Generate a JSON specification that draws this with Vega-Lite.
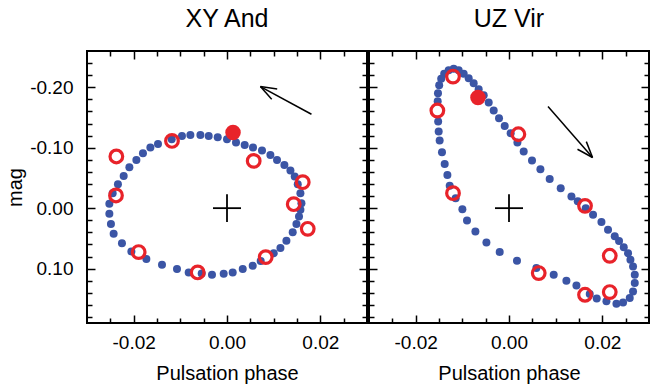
{
  "$schema": "https://vega.github.io/schema/vega-lite/v6.json",
  "padding": {"left": 4, "top": 6, "right": 5, "bottom": 5},
  "spacing": -2,
  "config": {
    "view": {"stroke": "black", "strokeWidth": 2},
    "font": "Liberation Sans",
    "axis": {"labelFont": "Liberation Sans", "titleFont": "Liberation Sans", "labelColor": "black", "titleColor": "black", "tickColor": "black", "grid": false, "domain": false, "labelFlush": false},
    "title": {"font": "Liberation Sans", "fontSize": 25, "fontWeight": "normal", "color": "black", "offset": 18}
  },
  "datasets": {
    "xyBlue": [
      {"x": -0.02092, "y": -0.0678}, {"x": -0.01942, "y": -0.0798}, {"x": -0.01801, "y": -0.0909}, {"x": -0.01642, "y": -0.1003},
      {"x": -0.01479, "y": -0.1063}, {"x": -0.01185, "y": -0.1140}, {"x": -0.00965, "y": -0.1195}, {"x": -0.00785, "y": -0.1212},
      {"x": -0.00570, "y": -0.1212}, {"x": -0.00392, "y": -0.1195}, {"x": -0.00199, "y": -0.1174}, {"x": 0.0, "y": -0.1140},
      {"x": 0.00193, "y": -0.1086}, {"x": 0.00379, "y": -0.1046}, {"x": 0.00557, "y": -0.1003}, {"x": 0.00750, "y": -0.0954},
      {"x": 0.00930, "y": -0.0881}, {"x": 0.01072, "y": -0.0798}, {"x": 0.01230, "y": -0.0716}, {"x": 0.01359, "y": -0.0623},
      {"x": 0.01451, "y": -0.0524}, {"x": 0.01516, "y": -0.0397}, {"x": 0.01573, "y": -0.0248}, {"x": 0.01595, "y": -0.0083},
      {"x": 0.01573, "y": 0.0028}, {"x": 0.01543, "y": 0.0137}, {"x": 0.01488, "y": 0.0264}, {"x": 0.01408, "y": 0.0397},
      {"x": 0.01273, "y": 0.0540}, {"x": 0.01145, "y": 0.0661}, {"x": 0.01001, "y": 0.0744}, {"x": 0.00722, "y": 0.0876},
      {"x": 0.00551, "y": 0.0954}, {"x": 0.00337, "y": 0.1008}, {"x": 0.00122, "y": 0.1063}, {"x": -0.00071, "y": 0.1086},
      {"x": -0.00322, "y": 0.1102}, {"x": -0.00542, "y": 0.1083}, {"x": -0.00821, "y": 0.1063}, {"x": -0.01072, "y": 0.1008},
      {"x": -0.01393, "y": 0.0937}, {"x": -0.01728, "y": 0.0843}, {"x": -0.02049, "y": 0.0716}, {"x": -0.02251, "y": 0.0579},
      {"x": -0.02429, "y": 0.0425}, {"x": -0.02487, "y": 0.0264}, {"x": -0.02521, "y": 0.0094}, {"x": -0.02521, "y": -0.0071},
      {"x": -0.02450, "y": -0.0248}, {"x": -0.02337, "y": -0.0397}, {"x": -0.02214, "y": -0.0534}
    ],
    "xyOpen": [
      {"x": -0.02371, "y": -0.0855}, {"x": -0.02379, "y": -0.0210}, {"x": -0.01893, "y": 0.0727}, {"x": -0.00628, "y": 0.1063},
      {"x": -0.01179, "y": -0.1112}, {"x": 0.00572, "y": -0.0782}, {"x": 0.01623, "y": -0.0430}, {"x": 0.01430, "y": -0.0066},
      {"x": 0.01730, "y": 0.0342}, {"x": 0.00830, "y": 0.0810}
    ],
    "xyFilled": [{"x": 0.00129, "y": -0.1251}],
    "xyArrow": [
      {"x": 0.0181, "y": -0.1554, "x2": 0.00716, "y2": -0.2012},
      {"x": 0.00716, "y": -0.2012, "x2": 0.01076, "y2": -0.1970},
      {"x": 0.00716, "y": -0.2012, "x2": 0.00958, "y2": -0.1802}
    ],
    "cross": [
      {"x": -0.003, "y": 0, "x2": 0.003, "y2": 0},
      {"x": 0, "y": -0.023, "x2": 0, "y2": 0.023}
    ],
    "uzBlue": [
      {"x": -0.00999, "y": 0.0017}, {"x": -0.00900, "y": 0.0203}, {"x": -0.00720, "y": 0.0385}, {"x": -0.00484, "y": 0.0567},
      {"x": -0.00199, "y": 0.0727}, {"x": 0.00171, "y": 0.0871}, {"x": 0.00587, "y": 0.0992}, {"x": 0.00958, "y": 0.1102},
      {"x": 0.01230, "y": 0.1202}, {"x": 0.01445, "y": 0.1278}, {"x": 0.01730, "y": 0.1421}, {"x": 0.01880, "y": 0.1496},
      {"x": 0.02088, "y": 0.1542}, {"x": 0.02302, "y": 0.1582}, {"x": 0.02444, "y": 0.1559}, {"x": 0.02587, "y": 0.1488},
      {"x": 0.02658, "y": 0.1377}, {"x": 0.02695, "y": 0.1240}, {"x": 0.02695, "y": 0.1102}, {"x": 0.02658, "y": 0.0964},
      {"x": 0.02602, "y": 0.0855}, {"x": 0.02551, "y": 0.0744}, {"x": 0.02459, "y": 0.0645}, {"x": 0.02358, "y": 0.0545},
      {"x": 0.02266, "y": 0.0463}, {"x": 0.02122, "y": 0.0359}, {"x": 0.01981, "y": 0.0231}, {"x": 0.01801, "y": 0.0111},
      {"x": 0.01644, "y": 0.0}, {"x": 0.01473, "y": -0.0116}, {"x": 0.01338, "y": -0.0193}, {"x": 0.01108, "y": -0.0331},
      {"x": 0.00872, "y": -0.0484}, {"x": 0.00673, "y": -0.0645}, {"x": 0.00493, "y": -0.0788}, {"x": 0.00315, "y": -0.0937},
      {"x": 0.00180, "y": -0.1086}, {"x": 0.00036, "y": -0.1240}, {"x": -0.00092, "y": -0.1360}, {"x": -0.00214, "y": -0.1488},
      {"x": -0.00328, "y": -0.1615}, {"x": -0.00435, "y": -0.1747}, {"x": -0.00542, "y": -0.1868}, {"x": -0.00650, "y": -0.1967},
      {"x": -0.00757, "y": -0.2066}, {"x": -0.00864, "y": -0.2149}, {"x": -0.00971, "y": -0.2223}, {"x": -0.01078, "y": -0.2281},
      {"x": -0.01185, "y": -0.2306}, {"x": -0.01293, "y": -0.2281}, {"x": -0.01389, "y": -0.2223}, {"x": -0.01453, "y": -0.2140},
      {"x": -0.01496, "y": -0.2033}, {"x": -0.01522, "y": -0.1901}, {"x": -0.01528, "y": -0.1769}, {"x": -0.01518, "y": -0.1433},
      {"x": -0.01507, "y": -0.1268}, {"x": -0.01486, "y": -0.1119}, {"x": -0.01436, "y": -0.0926}, {"x": -0.01378, "y": -0.0732},
      {"x": -0.01320, "y": -0.0550}, {"x": -0.01271, "y": -0.0369}, {"x": -0.01143, "y": -0.0165}
    ],
    "uzOpen": [
      {"x": -0.01200, "y": -0.2177}, {"x": -0.01535, "y": -0.1615}, {"x": 0.00201, "y": -0.1223}, {"x": -0.01200, "y": -0.0248},
      {"x": 0.01629, "y": -0.0038}, {"x": 0.02159, "y": 0.0788}, {"x": 0.02159, "y": 0.1388}, {"x": 0.01629, "y": 0.1433},
      {"x": 0.00637, "y": 0.1074}
    ],
    "uzFilled": [{"x": -0.00665, "y": -0.1830}],
    "uzArrow": [
      {"x": 0.00836, "y": -0.1681, "x2": 0.0179, "y2": -0.0838},
      {"x": 0.0179, "y": -0.0838, "x2": 0.01468, "y2": -0.0974},
      {"x": 0.0179, "y": -0.0838, "x2": 0.01657, "y2": -0.1101}
    ]
  },
  "hconcat": [
    {
      "width": 280,
      "height": 272,
      "title": {"text": "XY And"},
      "resolve": {"axis": {"x": "independent", "y": "independent"}},
      "layer": [
        {
          "data": {"name": "xyBlue"},
          "mark": {"type": "circle", "size": 64, "color": "#3b55a5", "opacity": 1},
          "encoding": {
            "x": {"field": "x", "type": "quantitative", "scale": {"domain": [-0.03, 0.03], "nice": false, "zero": false},
              "axis": {"orient": "bottom", "values": [-0.02, 0, 0.02], "ticks": false, "labelPadding": 10, "labelFontSize": 19, "labelExpr": "(datum.value < 0 ? '-' : '') + format(abs(datum.value), '.2f')", "title": "Pulsation phase", "titleFontSize": 20, "titleFontWeight": "normal", "titlePadding": 11}},
            "y": {"field": "y", "type": "quantitative", "scale": {"domain": [-0.26, 0.19], "nice": false, "zero": false, "reverse": true},
              "axis": {"orient": "left", "values": [-0.2, -0.1, 0, 0.1], "ticks": false, "labelPadding": 14, "labelFontSize": 19, "labelExpr": "(datum.value < 0 ? '-' : '') + format(abs(datum.value), '.2f')", "title": "mag", "titleFontSize": 20, "titleFontWeight": "normal", "titlePadding": 4}}
          }
        },
        {
          "data": {"name": "xyOpen"},
          "mark": {"type": "point", "shape": "circle", "filled": false, "size": 160, "strokeWidth": 3.2, "color": "#e8232a", "opacity": 1},
          "encoding": {
            "x": {"field": "x", "type": "quantitative", "scale": {"domain": [-0.03, 0.03], "nice": false, "zero": false},
              "axis": {"orient": "bottom", "values": [-0.02, 0, 0.02], "labels": false, "tickSize": -8, "tickWidth": 1.5, "title": null}},
            "y": {"field": "y", "type": "quantitative", "scale": {"domain": [-0.26, 0.19], "nice": false, "zero": false, "reverse": true},
              "axis": {"orient": "left", "values": [-0.2, -0.1, 0, 0.1], "labels": false, "tickSize": -8, "tickWidth": 1.5, "title": null}}
          }
        },
        {
          "data": {"name": "xyFilled"},
          "mark": {"type": "circle", "size": 240, "color": "#e8232a", "opacity": 1},
          "encoding": {
            "x": {"field": "x", "type": "quantitative", "scale": {"domain": [-0.03, 0.03], "nice": false, "zero": false},
              "axis": {"orient": "bottom", "values": [-0.025, -0.015, -0.01, -0.005, 0.005, 0.01, 0.015, 0.025], "labels": false, "tickSize": -5, "tickWidth": 1.5, "title": null}},
            "y": {"field": "y", "type": "quantitative", "scale": {"domain": [-0.26, 0.19], "nice": false, "zero": false, "reverse": true},
              "axis": {"orient": "left", "values": [-0.24, -0.22, -0.18, -0.16, -0.14, -0.12, -0.08, -0.06, -0.04, -0.02, 0.02, 0.04, 0.06, 0.08, 0.12, 0.14, 0.16, 0.18], "labels": false, "tickSize": -5, "tickWidth": 1.5, "title": null}}
          }
        },
        {
          "data": {"name": "cross"},
          "mark": {"type": "rule", "color": "black", "strokeWidth": 1.8},
          "encoding": {
            "x": {"field": "x", "type": "quantitative", "scale": {"domain": [-0.03, 0.03], "nice": false, "zero": false},
              "axis": {"orient": "top", "values": [-0.02, 0, 0.02], "labels": false, "tickSize": -8, "tickWidth": 1.5, "title": null}},
            "x2": {"field": "x2"},
            "y": {"field": "y", "type": "quantitative", "scale": {"domain": [-0.26, 0.19], "nice": false, "zero": false, "reverse": true},
              "axis": {"orient": "right", "values": [-0.2, -0.1, 0, 0.1], "labels": false, "tickSize": -8, "tickWidth": 1.5, "title": null}},
            "y2": {"field": "y2"}
          }
        },
        {
          "data": {"name": "xyArrow"},
          "mark": {"type": "rule", "color": "black", "strokeWidth": 1.5},
          "encoding": {
            "x": {"field": "x", "type": "quantitative", "scale": {"domain": [-0.03, 0.03], "nice": false, "zero": false},
              "axis": {"orient": "top", "values": [-0.025, -0.015, -0.01, -0.005, 0.005, 0.01, 0.015, 0.025], "labels": false, "tickSize": -5, "tickWidth": 1.5, "title": null}},
            "x2": {"field": "x2"},
            "y": {"field": "y", "type": "quantitative", "scale": {"domain": [-0.26, 0.19], "nice": false, "zero": false, "reverse": true},
              "axis": {"orient": "right", "values": [-0.24, -0.22, -0.18, -0.16, -0.14, -0.12, -0.08, -0.06, -0.04, -0.02, 0.02, 0.04, 0.06, 0.08, 0.12, 0.14, 0.16, 0.18], "labels": false, "tickSize": -5, "tickWidth": 1.5, "title": null}},
            "y2": {"field": "y2"}
          }
        }
      ]
    },
    {
      "width": 280,
      "height": 272,
      "title": {"text": "UZ Vir"},
      "resolve": {"axis": {"x": "independent", "y": "independent"}},
      "layer": [
        {
          "data": {"name": "uzBlue"},
          "mark": {"type": "circle", "size": 64, "color": "#3b55a5", "opacity": 1},
          "encoding": {
            "x": {"field": "x", "type": "quantitative", "scale": {"domain": [-0.03, 0.03], "nice": false, "zero": false},
              "axis": {"orient": "bottom", "values": [-0.02, 0, 0.02], "ticks": false, "labelPadding": 10, "labelFontSize": 19, "labelExpr": "(datum.value < 0 ? '-' : '') + format(abs(datum.value), '.2f')", "title": "Pulsation phase", "titleFontSize": 20, "titleFontWeight": "normal", "titlePadding": 11}},
            "y": {"field": "y", "type": "quantitative", "scale": {"domain": [-0.26, 0.19], "nice": false, "zero": false, "reverse": true},
              "axis": {"orient": "left", "values": [-0.2, -0.1, 0, 0.1], "labels": false, "tickSize": -8, "tickWidth": 1.5, "title": null}}
          }
        },
        {
          "data": {"name": "uzOpen"},
          "mark": {"type": "point", "shape": "circle", "filled": false, "size": 160, "strokeWidth": 3.2, "color": "#e8232a", "opacity": 1},
          "encoding": {
            "x": {"field": "x", "type": "quantitative", "scale": {"domain": [-0.03, 0.03], "nice": false, "zero": false},
              "axis": {"orient": "bottom", "values": [-0.02, 0, 0.02], "labels": false, "tickSize": -8, "tickWidth": 1.5, "title": null}},
            "y": {"field": "y", "type": "quantitative", "scale": {"domain": [-0.26, 0.19], "nice": false, "zero": false, "reverse": true},
              "axis": {"orient": "left", "values": [-0.24, -0.22, -0.18, -0.16, -0.14, -0.12, -0.08, -0.06, -0.04, -0.02, 0.02, 0.04, 0.06, 0.08, 0.12, 0.14, 0.16, 0.18], "labels": false, "tickSize": -5, "tickWidth": 1.5, "title": null}}
          }
        },
        {
          "data": {"name": "uzFilled"},
          "mark": {"type": "circle", "size": 240, "color": "#e8232a", "opacity": 1},
          "encoding": {
            "x": {"field": "x", "type": "quantitative", "scale": {"domain": [-0.03, 0.03], "nice": false, "zero": false},
              "axis": {"orient": "bottom", "values": [-0.025, -0.015, -0.01, -0.005, 0.005, 0.01, 0.015, 0.025], "labels": false, "tickSize": -5, "tickWidth": 1.5, "title": null}},
            "y": {"field": "y", "type": "quantitative", "scale": {"domain": [-0.26, 0.19], "nice": false, "zero": false, "reverse": true},
              "axis": {"orient": "right", "values": [-0.2, -0.1, 0, 0.1], "labels": false, "tickSize": -8, "tickWidth": 1.5, "title": null}}
          }
        },
        {
          "data": {"name": "cross"},
          "mark": {"type": "rule", "color": "black", "strokeWidth": 1.8},
          "encoding": {
            "x": {"field": "x", "type": "quantitative", "scale": {"domain": [-0.03, 0.03], "nice": false, "zero": false},
              "axis": {"orient": "top", "values": [-0.02, 0, 0.02], "labels": false, "tickSize": -8, "tickWidth": 1.5, "title": null}},
            "x2": {"field": "x2"},
            "y": {"field": "y", "type": "quantitative", "scale": {"domain": [-0.26, 0.19], "nice": false, "zero": false, "reverse": true},
              "axis": {"orient": "right", "values": [-0.24, -0.22, -0.18, -0.16, -0.14, -0.12, -0.08, -0.06, -0.04, -0.02, 0.02, 0.04, 0.06, 0.08, 0.12, 0.14, 0.16, 0.18], "labels": false, "tickSize": -5, "tickWidth": 1.5, "title": null}},
            "y2": {"field": "y2"}
          }
        },
        {
          "data": {"name": "uzArrow"},
          "mark": {"type": "rule", "color": "black", "strokeWidth": 1.5},
          "encoding": {
            "x": {"field": "x", "type": "quantitative", "scale": {"domain": [-0.03, 0.03], "nice": false, "zero": false},
              "axis": {"orient": "top", "values": [-0.025, -0.015, -0.01, -0.005, 0.005, 0.01, 0.015, 0.025], "labels": false, "tickSize": -5, "tickWidth": 1.5, "title": null}},
            "x2": {"field": "x2"},
            "y": {"field": "y", "type": "quantitative", "scale": {"domain": [-0.26, 0.19], "nice": false, "zero": false, "reverse": true}, "axis": null},
            "y2": {"field": "y2"}
          }
        }
      ]
    }
  ]
}
